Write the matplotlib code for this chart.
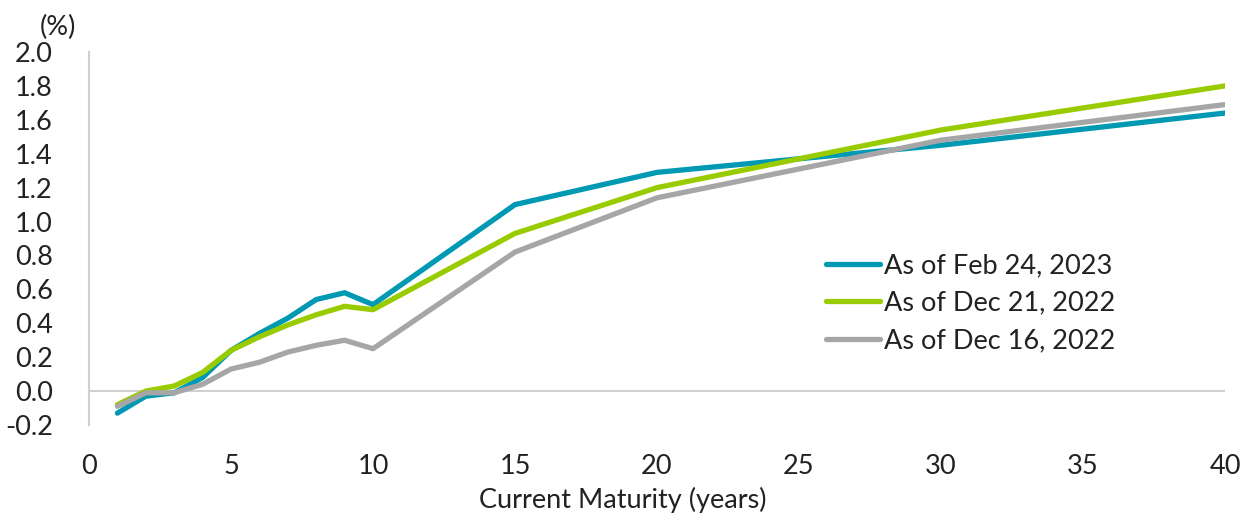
import matplotlib
matplotlib.use("Agg")
import matplotlib.pyplot as plt

plt.rcParams['font.family'] = ['Lato', 'DejaVu Sans']

maturities = [1, 2, 3, 4, 5, 6, 7, 8, 9, 10, 15, 20, 30, 40]
feb24_2023 = [-0.13, -0.03, -0.01, 0.08, 0.24, 0.34, 0.43, 0.54, 0.58, 0.51, 1.10, 1.29, 1.45, 1.64]
dec21_2022 = [-0.08, 0.00, 0.03, 0.11, 0.24, 0.32, 0.39, 0.45, 0.50, 0.48, 0.93, 1.20, 1.54, 1.80]
dec16_2022 = [-0.09, -0.01, -0.01, 0.04, 0.13, 0.17, 0.23, 0.27, 0.30, 0.25, 0.82, 1.14, 1.48, 1.69]
series_labels = ["As of Feb 24, 2023", "As of Dec 21, 2022", "As of Dec 16, 2022"]
colors = ["#0099b3", "#99cc00", "#a6a6a6"]

yticks = [-0.2, 0.0, 0.2, 0.4, 0.6, 0.8, 1.0, 1.2, 1.4, 1.6, 1.8, 2.0]
xticks = [0, 5, 10, 15, 20, 25, 30, 35, 40]

fig = plt.figure(figsize=(12.42, 5.14), dpi=100)
ax = fig.add_axes([89/1242, 1-425/514, (1225-89)/1242, (425-52)/514])

text_color = "#222222"
for vals, lab, c in zip([feb24_2023, dec21_2022, dec16_2022], series_labels, colors):
    ax.plot(maturities, vals, color=c, lw=3.8, label=lab, solid_capstyle='round', solid_joinstyle='round', zorder=3)

ax.axhline(0, color="#d0d0d0", lw=1.5, zorder=1)
ax.set_xlim(0, 40)
ax.set_ylim(-0.2, 2.0)
ax.set_yticks(yticks)
ax.set_yticklabels([f"{v:.1f}" for v in yticks])
ax.set_xticks(xticks)
ax.tick_params(axis='both', length=0, labelsize=19.5, colors=text_color)
ax.tick_params(axis='y', pad=26)
ax.tick_params(axis='x', pad=21)
for s in ['top', 'right', 'bottom']:
    ax.spines[s].set_visible(False)
ax.spines['left'].set_color("#d0d0d0")
ax.spines['left'].set_linewidth(1.5)

ax.set_xlabel("Current Maturity (years)", fontsize=19.5, color=text_color, labelpad=6)
ax.xaxis.set_label_coords((623-89)/1136, -0.165)
fig.text(58/1242, 1-27/514, "(%)", fontsize=19.5, color=text_color, ha='center', va='center')

leg = ax.legend(loc='upper left', bbox_to_anchor=(826/1242, 1-253/514), bbox_transform=fig.transFigure,
                frameon=False, fontsize=19.5, handlelength=2.0, handletextpad=0.15, labelspacing=0.47,
                borderaxespad=0, borderpad=0)
for t in leg.get_texts():
    t.set_color(text_color)

fig.savefig("out.png", dpi=100)
